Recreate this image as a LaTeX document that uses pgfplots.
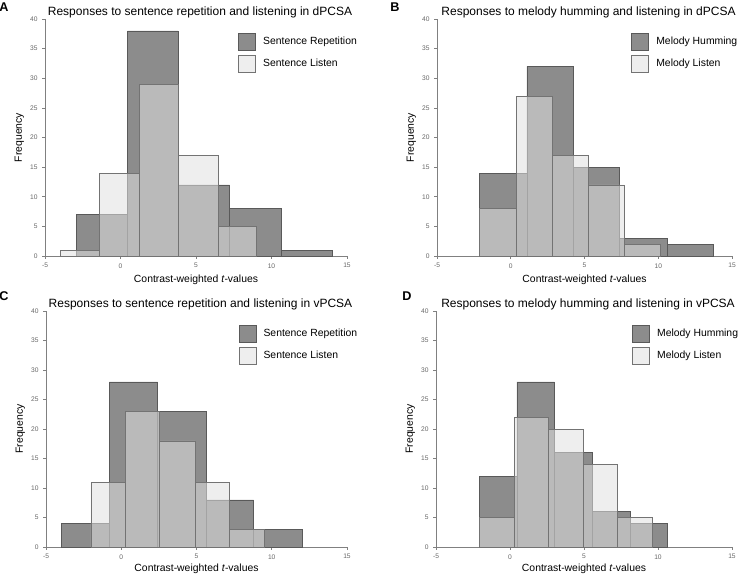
\documentclass[border=0pt]{standalone}
\usepackage{fontspec}
\setmainfont{Liberation Sans}
\usepackage{pgfplots}
\pgfplotsset{compat=1.18}
\definecolor{darkbar}{gray}{0.55}
\definecolor{lightbar}{gray}{0.88}
\definecolor{axgray}{gray}{0.5}
\pgfplotsset{
 histo/.style={
  scale only axis,
  xmin=-5, xmax=15, ymin=0, ymax=40,
  xtick={-5,0,5,10,15}, ytick={0,5,...,40},
  axis x line*=bottom, axis y line*=left,
  axis line style={draw=axgray, line width=0.5pt, -},
  tick style={draw=axgray, line width=0.4pt},
  major tick length=2pt,
  tick align=outside,
  ticklabel style={font=\fontsize{5}{6}\selectfont, text=black!60},
  /pgf/number format/assume math mode=true,
  xlabel={Contrast-weighted \textit{t}-values},
  ylabel={Frequency},
  label style={font=\fontsize{7.8}{9}\selectfont},
  ylabel style={yshift=-2.25pt},
  xlabel style={yshift=1.5pt},
  title style={font=\fontsize{9}{11}\selectfont, yshift=-9pt, xshift=3pt},
  legend style={draw=none, fill=none, inner sep=0pt, anchor=north west,
     font=\fontsize{7.8}{9}\selectfont, row sep=3pt,
     nodes={inner sep=1pt},
     /tikz/every odd column/.style={column sep=4.5pt}},
  legend cell align=left,
 },
 dark/.style={ybar interval, fill=darkbar, draw=black!65, line width=0.4pt,
   legend image code/.code={\draw[fill=darkbar, draw=black!65, line width=0.4pt] (0pt,-6.4pt) rectangle (12.8pt,6.4pt);}},
 light/.style={ybar interval, fill=lightbar, fill opacity=0.55, draw=black!55, line width=0.4pt,
   legend image code/.code={\draw[fill=lightbar, fill opacity=0.55, draw=black!55, line width=0.4pt] (0pt,-6.4pt) rectangle (12.8pt,6.4pt);}},
}
\begin{document}
\begin{tikzpicture}
\path[use as bounding box] (0,0) rectangle (555pt,432pt);
% Panel A
\begin{axis}[histo, at={(33.75pt,240pt)}, anchor=south west, width=226.5pt, height=177.75pt,
  title={Responses to sentence repetition and listening in dPCSA},
  legend style={at={(0.639,0.941)}}]
\addplot[dark] coordinates {(-2.94,7) (0.48,38) (3.80,12) (7.22,8) (10.65,1) (14.0,1)};
\addlegendentry{Sentence Repetition}
\addplot[light] coordinates {(-3.96,1) (-1.40,14) (1.25,29) (3.84,17) (6.45,5) (8.99,5)};
\addlegendentry{Sentence Listen}
\end{axis}
% Panel B
\begin{axis}[histo, at={(327.75pt,240pt)}, anchor=south west, width=221.25pt, height=177.75pt,
  title={Responses to melody humming and listening in dPCSA},
  legend style={at={(0.658,0.941)}}]
\addplot[dark] coordinates {(-2.11,14) (1.10,32) (4.22,15) (7.38,3) (10.59,2) (13.76,2)};
\addlegendentry{Melody Humming}
\addplot[light] coordinates {(-2.11,8) (0.36,27) (2.80,17) (5.28,12) (7.70,2) (10.14,2)};
\addlegendentry{Melody Listen}
\end{axis}
% Panel C
\begin{axis}[histo, at={(34.5pt,21.75pt)}, anchor=south west, width=225.75pt, height=177pt,
  title={Responses to sentence repetition and listening in vPCSA},
  xlabel style={yshift=1.5pt},
  legend style={at={(0.639,0.941)}}]
\addplot[dark] coordinates {(-4.00,4) (-0.79,28) (2.42,23) (5.63,8) (8.80,3) (12.01,3)};
\addlegendentry{Sentence Repetition}
\addplot[light] coordinates {(-2.01,11) (0.27,23) (2.55,18) (4.92,11) (7.20,3) (9.51,3)};
\addlegendentry{Sentence Listen}
\end{axis}
% Panel D
\begin{axis}[histo, at={(327pt,21.75pt)}, anchor=south west, width=222pt, height=177pt,
  title={Responses to melody humming and listening in vPCSA},
  xlabel style={yshift=1.5pt},
  legend style={at={(0.662,0.941)}}]
\addplot[dark] coordinates {(-2.06,12) (0.46,28) (3.00,16) (5.58,6) (8.10,4) (10.64,4)};
\addlegendentry{Melody Humming}
\addplot[light] coordinates {(-2.06,5) (0.28,22) (2.60,20) (4.96,14) (7.25,5) (9.63,5)};
\addlegendentry{Melody Listen}
\end{axis}
\node[font=\fontsize{9.5}{11}\bfseries] at (3pt,426.4pt) {A};
\node[font=\fontsize{9.5}{11}\bfseries] at (296.25pt,426.4pt) {B};
\node[font=\fontsize{9.5}{11}\bfseries] at (3pt,210pt) {C};
\node[font=\fontsize{9.5}{11}\bfseries] at (305.25pt,210pt) {D};
\end{tikzpicture}
\end{document}
